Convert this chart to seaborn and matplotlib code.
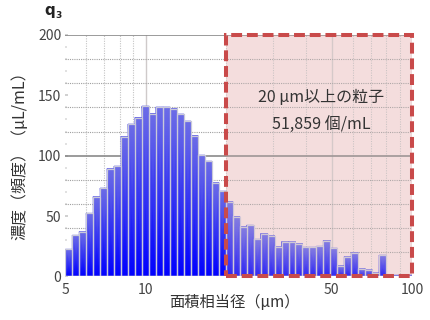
import numpy as np
import matplotlib
matplotlib.use("Agg")
import matplotlib.pyplot as plt
from matplotlib.colors import LinearSegmentedColormap
from matplotlib.patches import Rectangle
from matplotlib.ticker import FixedLocator, FixedFormatter, NullLocator, MultipleLocator
import seaborn as sns

# ---- data ----
bin_start_um = 5.0
bin_stop_um = 80.0
n_bins = 46
values = [22.5, 34.1, 37.1, 52.3, 66.1, 73.1, 89.3, 91.3, 115.8, 126.1,
          131.6, 141.0, 134.9, 140.2, 140.2, 139.0, 134.4, 128.6, 116.7, 100.4,
          95.4, 77.7, 70.6, 62.0, 49.6, 41.3, 42.4, 30.8, 35.5, 33.8,
          24.7, 28.8, 28.8, 27.2, 24.2, 24.2, 25.0, 29.7, 23.4, 9.0,
          16.4, 19.7, 6.5, 5.6, 3.1, 17.6]
x_ticks = [5, 10, 50, 100]
x_tick_labels = ["5", "10", "50", "100"]
y_ticks = [0, 50, 100, 150, 200]
y_tick_labels = ["0", "50", "100", "150", "200"]
region_range = (20, 100)
region_line1 = "20 μm以上の粒子"
region_line2 = "51,859 個/mL"
x_label = "面積相当径（μm）"
y_label = "濃度（頻度）（μL/mL）"

edges = np.geomspace(bin_start_um, bin_stop_um, n_bins + 1)
centers = np.sqrt(edges[:-1] * edges[1:])

sns.set_theme(style="white")
plt.rcParams['font.family'] = ['Noto Sans CJK JP', 'DejaVu Sans']

fig = plt.figure(figsize=(4.3, 3.2), dpi=100)
ax = fig.add_axes([0.152, 0.136, 0.806, 0.755])
ax.set_xscale('log')

# pink background region
ax.axvspan(*region_range, ymin=0, ymax=1, facecolor='#f6e3e3', edgecolor='none', zorder=0)

# grid lines
for v in [6, 7, 8, 9, 20, 30, 40, 60, 70, 80, 90]:
    ax.axvline(v, color='#c4c4c4', ls=(0, (1, 1.2)), lw=0.8, zorder=1)
for v in [10, 50, 100]:
    ax.axvline(v, color='#cfcaca', ls='-', lw=1.0, zorder=1)
for h in [20, 40, 60, 80, 120, 140, 160, 180]:
    ax.axhline(h, color='#a0a0a0', ls=(0, (1, 1)), lw=0.8, zorder=1)
for h in [100, 200]:
    ax.axhline(h, color='#8a8a8a', ls='-', lw=1.2, zorder=1)

# bars (outline from seaborn histplot)
df = {"size": list(centers), "conc": values}
sns.histplot(data=df, x="size", weights="conc", bins=list(np.log10(edges)), ax=ax,
             facecolor='none', edgecolor='#c9c9d9', linewidth=0.9, zorder=3)

cmap = LinearSegmentedColormap.from_list('bluegrad', ['#0000ff', '#6c6ce6'])
for p in list(ax.patches):
    l, w, h = p.get_x(), p.get_width(), p.get_height()
    if h <= 0:
        continue
    X = np.array([[l, l + w], [l, l + w]])
    Y = np.array([[0, 0], [h, h]])
    C = np.array([[0.0, 0.0], [1.0, 1.0]])
    ax.pcolormesh(X, Y, C, cmap=cmap, shading='gouraud', vmin=0, vmax=1, zorder=2)

# pink overlay over bars
ax.axvspan(*region_range, facecolor='#f0c8c8', alpha=0.2, edgecolor='none', zorder=4)
# dashed frame
rect = Rectangle((region_range[0], 0), region_range[1] - region_range[0], 200,
                 fill=False, edgecolor='#c94a4a', lw=2.9,
                 linestyle=(0, (2.7, 1.2)), zorder=6, clip_on=False)
ax.add_patch(rect)

ax.text(0.739, 0.742, region_line1, transform=ax.transAxes, ha='center', va='center',
        fontsize=11.5, color='#333333', zorder=7)
ax.text(0.739, 0.628, region_line2, transform=ax.transAxes, ha='center', va='center',
        fontsize=11.5, color='#333333', zorder=7)

ax.set_xlim(5, 100)
ax.set_ylim(0, 200)
ax.axhline(0, color='#c8c8d0', lw=1.0, zorder=3)

for s in ax.spines.values():
    s.set_visible(False)

ax.xaxis.set_major_locator(FixedLocator(x_ticks))
ax.xaxis.set_major_formatter(FixedFormatter(x_tick_labels))
ax.xaxis.set_minor_locator(NullLocator())
ax.yaxis.set_major_locator(FixedLocator(y_ticks))
ax.yaxis.set_major_formatter(FixedFormatter(y_tick_labels))
ax.yaxis.set_minor_locator(MultipleLocator(10))
ax.tick_params(axis='x', which='both', length=0, pad=5, labelsize=10, labelcolor='#444444')
ax.tick_params(axis='y', which='major', direction='in', length=2, width=1.2,
               color='#c8c8c8', pad=3, labelsize=10, labelcolor='#444444', left=True)
ax.tick_params(axis='y', which='minor', direction='in', length=1.5, width=1.2,
               color='#dcdcdc', left=True)
ax.set_xlabel("")
ax.set_ylabel("")

fig.text(234 / 430, 1 - 303 / 320, x_label, ha='center', va='center',
         fontsize=11, color='#333333')
fig.text(20 / 430, 1 - 152 / 320, y_label, ha='center', va='center',
         rotation=90, fontsize=11.5, color='#333333')
fig.text(44 / 430, 1 - 15 / 320, 'q', ha='left', va='baseline',
         fontsize=11, fontweight='bold', color='#222222', family='DejaVu Sans')
fig.text(55.5 / 430, 1 - 18.3 / 320, '3', ha='left', va='baseline',
         fontsize=6.5, fontweight='bold', color='#222222', family='DejaVu Sans')

fig.savefig('out.png', dpi=100)
